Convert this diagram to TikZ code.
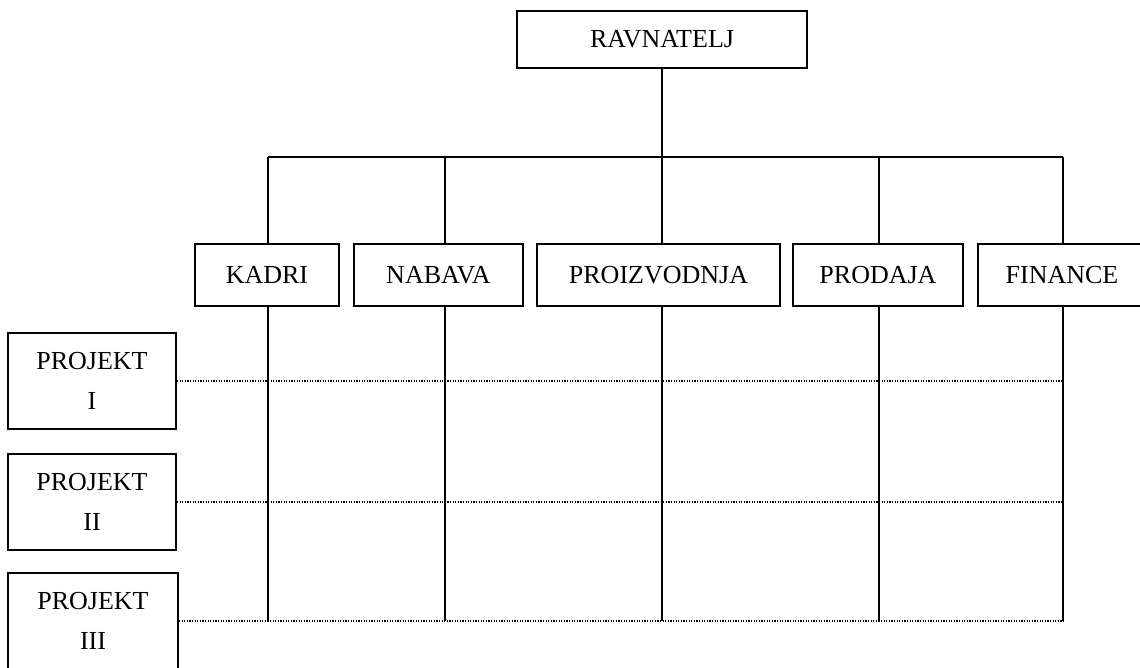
\documentclass[tikz,border=0pt]{standalone}
\usepackage{fontspec}
\setmainfont{Liberation Serif}
\begin{document}
\begin{tikzpicture}[x=1pt,y=1pt,
  orgbox/.style={draw, line width=1.8pt, inner sep=0pt, font=\fontsize{26}{40}\selectfont, align=center},
  link/.style={line width=1.8pt},
  projline/.style={line width=1.2pt, dash pattern=on 1.2pt off 1.4pt}]
\useasboundingbox (0,0) rectangle (1140,-668);
\fill[white] (0,0) rectangle (1140,-668);

% director
\node[orgbox, minimum width=290, minimum height=57] (rav) at (662,-39.5) {RAVNATELJ};

% departments
\node[orgbox, minimum width=144, minimum height=62] (kadri) at (267,-275) {KADRI};
\node[orgbox, minimum width=169, minimum height=62] (nabava) at (438.5,-275) {NABAVA};
\node[orgbox, minimum width=243, minimum height=62] (proiz) at (658.5,-275) {PROIZVODNJA};
\node[orgbox, minimum width=170, minimum height=62] (prodaja) at (878,-275) {PRODAJA};
\node[orgbox, minimum width=168, minimum height=62] (finance) at (1062,-275) {FINANCE};

% projects
\node[orgbox, minimum width=168, minimum height=96] (p1) at (92,-381) {PROJEKT\\I};
\node[orgbox, minimum width=168, minimum height=96] (p2) at (92,-502) {PROJEKT\\II};
\node[orgbox, minimum width=170, minimum height=96] (p3) at (93,-621) {PROJEKT\\III};

% columns on the distribution bar
\coordinate (c1) at (268,-157);
\coordinate (c2) at (445,-157);
\coordinate (c3) at (662,-157);
\coordinate (c4) at (879,-157);
\coordinate (c5) at (1063,-157);

% director to bar, bar, and branches
\draw[link] (rav.south -| c3) -- (c3);
\draw[link] (c1) -- (c5);
\draw[link] (c1) -- (kadri.north -| c1);
\draw[link] (c2) -- (nabava.north -| c2);
\draw[link] (c3) -- (proiz.north -| c3);
\draw[link] (c4) -- (prodaja.north -| c4);
\draw[link] (c5) -- (finance.north -| c5);

% department columns down to the last project row
\draw[link] (kadri.south -| c1) -- (p3.east -| c1);
\draw[link] (nabava.south -| c2) -- (p3.east -| c2);
\draw[link] (proiz.south -| c3) -- (p3.east -| c3);
\draw[link] (prodaja.south -| c4) -- (p3.east -| c4);
\draw[link] (finance.south -| c5) -- (p3.east -| c5);

% project rows
\draw[projline] (p1.east) -- (p1.east -| c5);
\draw[projline] (p2.east) -- (p2.east -| c5);
\draw[projline] (p3.east) -- (p3.east -| c5);
\end{tikzpicture}
\end{document}
